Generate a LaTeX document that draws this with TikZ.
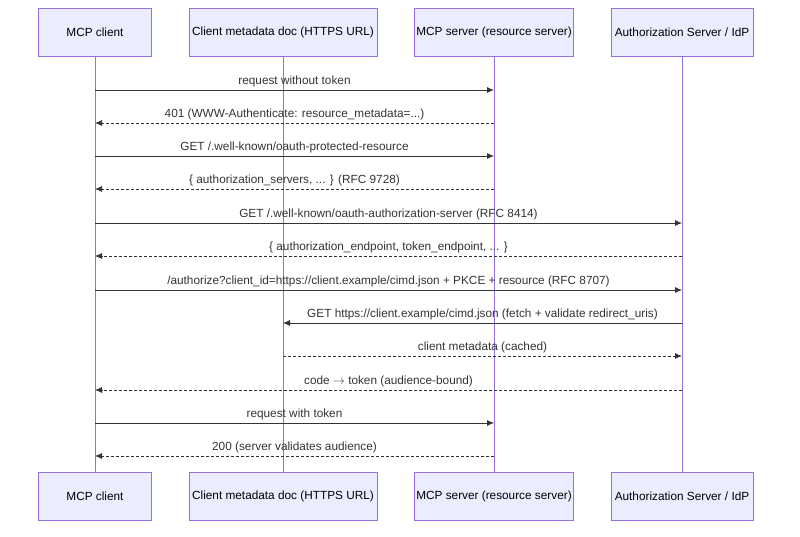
\documentclass[tikz,border=0pt]{standalone}
\usepackage{fontspec}
\setmainfont{Liberation Sans}
\usetikzlibrary{arrows.meta}
\definecolor{boxfill}{HTML}{ECECFF}
\definecolor{boxline}{HTML}{9370DB}
\definecolor{msg}{HTML}{333333}
\begin{document}
\begin{tikzpicture}[x=1pt,y=-1pt,
  actor/.style={draw=boxline,fill=boxfill,line width=0.8pt,minimum height=48pt,inner sep=2pt,font=\fontsize{11.8}{14}\selectfont},
  life/.style={draw=boxline,line width=0.9pt},
  req/.style={draw=msg,line width=0.8pt,-{Latex[length=7pt,width=6pt]}},
  resp/.style={req,dashed,dash pattern=on 3pt off 2pt},
  lab/.style={font=\fontsize{11.8}{14}\selectfont,text=msg,above=2pt,inner sep=1pt}]
\useasboundingbox (0,0) rectangle (800,536);
\foreach \n/\x/\w/\t in {a/95/113/{MCP client},b/283/188/{Client metadata doc (HTTPS URL)},c/494/157/{MCP server (resource server)},d/682/142/{Authorization Server / IdP}}{
  \node[actor,minimum width=\w pt] (\n top) at (\x,32) {\t};
  \node[actor,minimum width=\w pt] (\n bot) at (\x,496) {\t};
  \draw[life] (\n top.south) -- (\n bot.north);
  \foreach \k/\y in {1/90,2/123,3/156,4/189,5/223,6/256,7/290,8/323,9/356,10/390,11/423,12/456}{
    \coordinate (\n\k) at (\x,\y);}
}
\draw[req] (a1) -- node[lab]{request without token} (c1);
\draw[resp] (c2) -- node[lab]{401 (WWW-Authenticate: resource\_metadata=...)} (a2);
\draw[req] (a3) -- node[lab]{GET /.well-known/oauth-protected-resource} (c3);
\draw[resp] (c4) -- node[lab]{\{ authorization\_servers, ... \} (RFC 9728)} (a4);
\draw[req] (a5) -- node[lab]{GET /.well-known/oauth-authorization-server (RFC 8414)} (d5);
\draw[resp] (d6) -- node[lab]{\{ authorization\_endpoint, token\_endpoint, ... \}} (a6);
\draw[req] (a7) -- node[lab]{/authorize?client\_id=https://client.example/cimd.json + PKCE + resource (RFC 8707)} (d7);
\draw[req] (d8) -- node[lab]{GET https://client.example/cimd.json (fetch + validate redirect\_uris)} (b8);
\draw[resp] (b9) -- node[lab]{client metadata (cached)} (d9);
\draw[resp] (d10) -- node[lab]{code $\rightarrow$ token (audience-bound)} (a10);
\draw[req] (a11) -- node[lab]{request with token} (c11);
\draw[resp] (c12) -- node[lab]{200 (server validates audience)} (a12);
\end{tikzpicture}
\end{document}
